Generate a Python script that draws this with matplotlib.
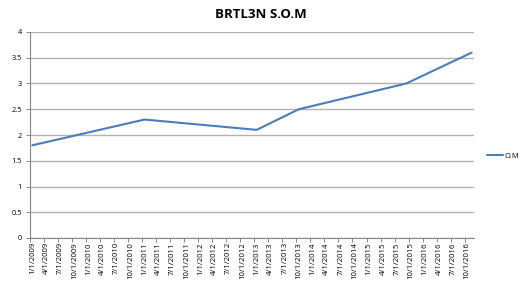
import matplotlib
matplotlib.use("Agg")
import matplotlib.pyplot as plt

# months since 1/1/2009 and the O.M values
months = [0, 24, 48, 57, 80, 94]
om = [1.8, 2.3, 2.1, 2.5, 3.0, 3.6]

tick_months = list(range(0, 94, 3))
tick_labels = [f"{(m % 12) + 1}/1/{2009 + m // 12}" for m in tick_months]
y_ticks = [0, 0.5, 1, 1.5, 2, 2.5, 3, 3.5, 4]
y_labels = ["0", "0.5", "1", "1.5", "2", "2.5", "3", "3.5", "4"]

plt.rcParams['font.family'] = ['Open Sans', 'DejaVu Sans']

fig = plt.figure(figsize=(5.21, 2.82), dpi=100)
ax = fig.add_axes([30 / 521, 1 - 238 / 282, 444 / 521, 206 / 282])

ax.plot(months, om, color="#4a7ebb", linewidth=1.5, label="O.M", solid_capstyle="round")

ax.set_xlim(-0.5, 94.5)
ax.set_ylim(0, 4)
ax.set_yticks(y_ticks)
ax.set_yticklabels(y_labels, fontsize=5.3)
ax.set_xticks(tick_months)
ax.set_xticklabels(tick_labels, rotation=90, fontsize=5.6)
ax.set_xticks([m - 0.5 for m in tick_months], minor=True)

ax.tick_params(axis="x", which="major", length=0, pad=3)
ax.tick_params(axis="x", which="minor", length=3, color="#868686", width=0.7)
ax.tick_params(axis="y", length=3, color="#868686", width=0.7, pad=3)

ax.grid(axis="y", color="#b3b3b3", linewidth=1)
ax.set_axisbelow(True)
for side in ["top", "right"]:
    ax.spines[side].set_visible(False)
for side in ["left", "bottom"]:
    ax.spines[side].set_color("#868686")
    ax.spines[side].set_linewidth(0.8)

fig.text(0.5, 1 - 15 / 282, "BRTL3N S.O.M", ha="center", va="center",
         fontsize=9.5, fontweight="bold")

fig.legend(loc="center left", bbox_to_anchor=(480 / 521, 1 - 156 / 282),
           frameon=False, fontsize=5.3, handlelength=2.2, handletextpad=0.2)

fig.savefig("out.png", dpi=100)
